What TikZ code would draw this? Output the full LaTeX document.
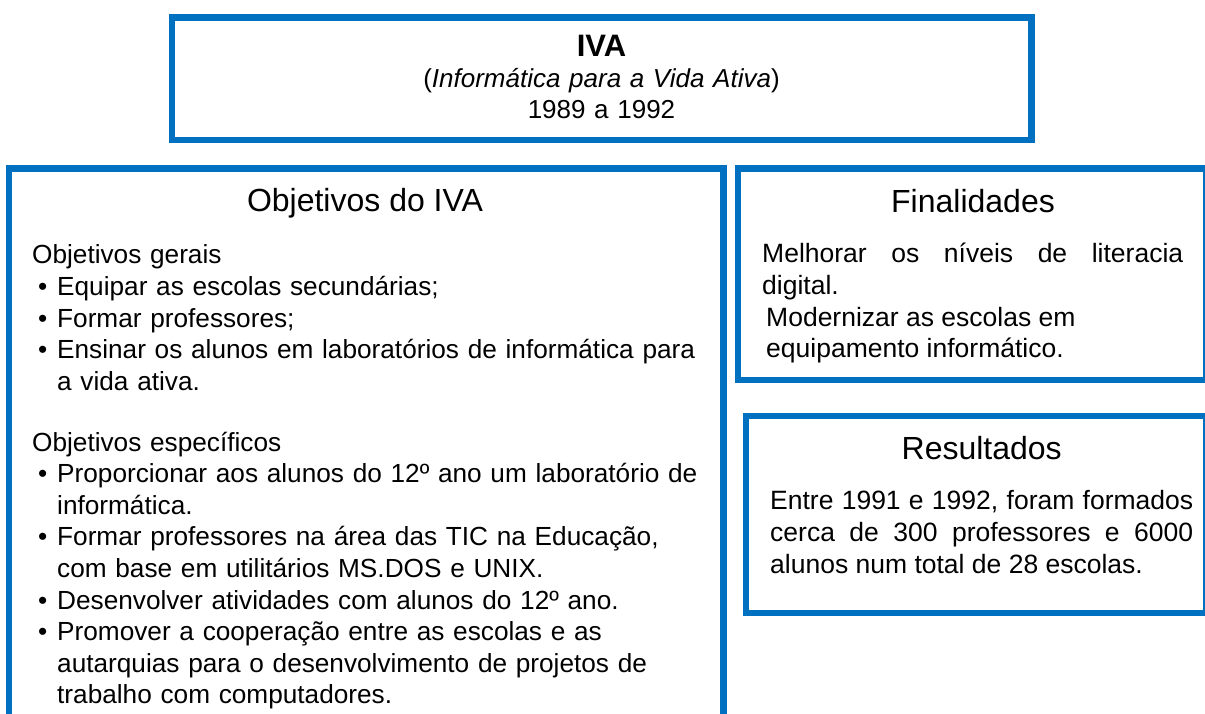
\documentclass[tikz,border=0pt]{standalone}
\usepackage{fontspec}
\setmainfont{Liberation Sans}
\definecolor{ivablue}{HTML}{0070C0}
\hyphenpenalty=10000
\newcommand{\blt}{\hspace*{6pt}\makebox[19pt][l]{\textbullet}}
\newcommand{\hang}{\hspace*{25pt}}

\begin{document}
\begin{tikzpicture}[x=1pt,y=-1pt,
  bluebox/.style={draw=ivablue, line width=6.5pt},
  boxtitle/.style={anchor=base, inner sep=0pt, font=\fontsize{32}{38}\selectfont},
  boxtext/.style={anchor=base west, inner sep=0pt, align=left, text width=680pt, font=\fontsize{26.5}{31.8}\selectfont},
  boxpar/.style={boxtext, align=justify}]
\useasboundingbox (0,0) rectangle (1205,714);
\clip (0,0) rectangle (1205,714);
\draw [bluebox] (172,17.3) rectangle (1031.5,140);
\draw [bluebox] (9,168.4) rectangle (723.7,740);
\draw [bluebox] (738,168.4) rectangle (1206,380);
\draw [bluebox] (746,416) rectangle (1206,613);
\node (iva) [anchor=base, inner sep=0pt, align=center, text width=800pt, font=\fontsize{26}{31}\selectfont] at (601.5,56.7)
  {{\fontsize{31}{31}\selectfont\textbf{IVA}}\\(\textit{Informática para a Vida Ativa})\\1989 a 1992};
\node (objtitle) [boxtitle] at (365,212) {Objetivos do IVA};
\node (gerais) [boxtext, font=\fontsize{26.2}{31.8}\selectfont] at (32,263.5) {Objetivos gerais\\
  \blt Equipar as escolas secundárias;\\
  \blt Formar professores;\\
  \blt Ensinar os alunos em laboratórios de informática para\\
  \hang a vida ativa.};
\node (especificos) [boxtext, font=\fontsize{26.2}{31.6}\selectfont] at (32,451) {Objetivos específicos\\
  \blt Proporcionar aos alunos do 12º ano um laboratório de\\
  \hang informática.\\
  \blt Formar professores na área das TIC na Educação,\\
  \hang com base em utilitários MS.DOS e UNIX.\\
  \blt Desenvolver atividades com alunos do 12º ano.\\
  \blt Promover a cooperação entre as escolas e as\\
  \hang autarquias para o desenvolvimento de projetos de\\
  \hang trabalho com computadores.};
\node (fintitle) [boxtitle] at (973,212.5) {Finalidades};
\node (fintext) [boxpar, text width=421pt] at (762,262.5)
  {Melhorar os níveis de literacia\linebreak digital.\\
  \hspace*{4pt}Modernizar as escolas em\\
  \hspace*{4pt}equipamento informático.};
\node (restitle) [boxtitle] at (981.7,459) {Resultados};
\node (restext) [boxpar, text width=423pt] at (770,509.5)
  {Entre 1991 e 1992, foram formados\linebreak cerca de 300 professores e 6000\linebreak alunos num total de 28 escolas.};
\end{tikzpicture}
\end{document}
